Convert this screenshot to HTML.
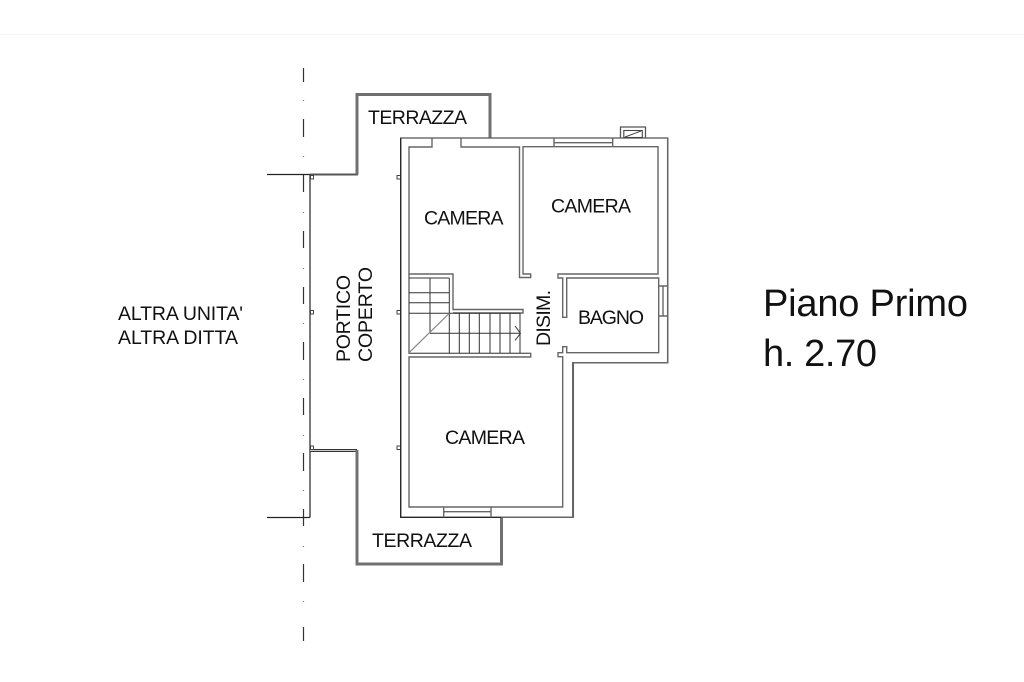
<!DOCTYPE html>
<html><head><meta charset="utf-8"><style>
html,body{margin:0;padding:0;background:#fff;width:1024px;height:682px;overflow:hidden}
svg{display:block}
text{font-family:"Liberation Sans",sans-serif;fill:#111;font-size:19.5px}
</style></head><body>
<svg width="1024" height="682" viewBox="0 0 1024 682" xmlns="http://www.w3.org/2000/svg">
<rect width="1024" height="682" fill="#fff"/>
<path d="M0 34.5H1024" stroke="#f6f6f6" stroke-width="1"/>
<!-- axis -->
<path d="M303.5 68V82M303.5 119V137M303.5 175V192M303.5 231V248M303.5 287V304M303.5 342V360M303.5 398V415M303.5 453V471M303.5 509V526M303.5 564V582M303.5 627V641" stroke="#333" stroke-width="1.2" fill="none"/>
<path d="M303.5 100v1M303.5 156v1M303.5 212v1M303.5 268v1M303.5 323v1M303.5 379v1M303.5 435v1M303.5 490v1M303.5 546v1M303.5 601v1" stroke="#777" stroke-width="1.2" fill="none"/>
<!-- portico -->
<path d="M267 174.500H310M310 174V517.500M267 517.500H310" stroke="#222" stroke-width="1.2" fill="none"/>
<path d="M310 174.500H358" stroke="#555" stroke-width="2" fill="none"/>
<path d="M310 450.500H357" stroke="#333" stroke-width="3" fill="none"/>
<path d="M310 450.500H356" stroke="#fff" stroke-width="0.8" fill="none"/>
<!-- terrazze -->
<path d="M357 174.500V94.500H490V138" stroke="#707070" stroke-width="3" fill="none"/>
<path d="M357 450V564H501.500V517" stroke="#707070" stroke-width="3" fill="none"/>
<!-- small squares -->
<g fill="#fff" stroke="#444" stroke-width="1">
<rect x="310.500" y="175.500" width="3" height="3.500"/><rect x="397" y="175.500" width="3.500" height="3.500"/>
<rect x="310.500" y="310.500" width="3" height="3.500"/><rect x="397" y="310.500" width="3.500" height="3.500"/>
<rect x="310.500" y="446" width="3" height="3.500"/><rect x="397" y="446" width="3.500" height="3.500"/>
</g>
<!-- outer walls -->
<path d="M400.700 138H667.700V362.700H572.700V517.300H400.700Z" fill="none" stroke="#555" stroke-width="1.3"/>
<path d="M400.700 138V517.300H501" fill="none" stroke="#222" stroke-width="1.2"/>
<path d="M501 517.300H573.300V362.700H667.700V138" fill="none" stroke="#666" stroke-width="1.500"/>
<!-- inner walls -->
<g fill="none" stroke="#666" stroke-width="1.400">
<path d="M432 138V147H409V274H453V309.500H523V313H453"/>
<path d="M461 138V147H519.500V277.500H530.700V274H523V146.700H658V274H558V278H562.700V317.300H566.700V278H658.700V352.700H566.700V346.700H562.700V352.700H558V356.700H562.700V507H409V357H530.700V353.300H409V274"/>
<path d="M554 138V146.700M612.700 138V146.700M554 142.700H612.700"/>
<path d="M658.700 286H667.700M658.700 316H667.700M663 286V316"/>
<path d="M443.700 507V517.300M491 507V517.300M443.700 511.700H491"/>
</g>
<!-- chimney -->
<path d="M620.500 138V127H645.500V138" fill="none" stroke="#555" stroke-width="1.300"/>
<rect x="623.800" y="130.500" width="18.500" height="7" fill="none" stroke="#444" stroke-width="1.100"/>
<path d="M625 137L641 131" stroke="#444" stroke-width="1" fill="none"/>
<!-- stairs -->
<g fill="none" stroke="#333" stroke-width="1">
<path d="M409 278H449.300M409 292.700H449.300M409 302.700H449.300M409 313.300H520M430 278V333.300M449.300 278V353M430 333.300H520"/>
<path d="M459.300 313V353M469.300 313V353M479.300 313V353M490 313V353M500 313V353M510 313V353M520 313V353"/>
<path d="M515 326L520.500 333.300L515 340.500"/>
</g>
<path d="M409 352.700L449.300 313.300" stroke="#888" stroke-width="1.200" fill="none"/>
<!-- labels -->
<text x="368" y="124" textLength="99" lengthAdjust="spacing">TERRAZZA</text>
<text x="372" y="547" textLength="100" lengthAdjust="spacing">TERRAZZA</text>
<text x="424" y="224.500" textLength="79.500" lengthAdjust="spacing">CAMERA</text>
<text x="551" y="212.500" textLength="80" lengthAdjust="spacing">CAMERA</text>
<text x="445" y="444" textLength="80" lengthAdjust="spacing">CAMERA</text>
<text x="578" y="324" textLength="66" lengthAdjust="spacing">BAGNO</text>
<text x="118" y="320" textLength="125" lengthAdjust="spacing">ALTRA UNITA'</text>
<text x="118" y="344" textLength="120" lengthAdjust="spacing">ALTRA DITTA</text>
<text transform="translate(550 346) rotate(-90)" textLength="56" lengthAdjust="spacing">DISIM.</text>
<text transform="translate(350 362) rotate(-90)" textLength="87" lengthAdjust="spacing">PORTICO</text>
<text transform="translate(372 362) rotate(-90)" textLength="95" lengthAdjust="spacing">COPERTO</text>
<text x="763" y="316" style="font-size:38px" textLength="205" lengthAdjust="spacing">Piano Primo</text>
<text x="763" y="366" style="font-size:38px" textLength="114" lengthAdjust="spacing">h. 2.70</text>
</svg>
</body></html>
